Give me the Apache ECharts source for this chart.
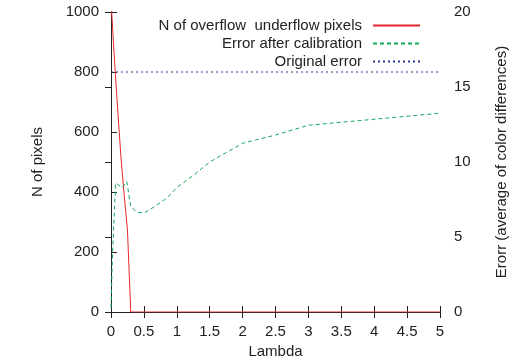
<!DOCTYPE html>
<html><head><meta charset="utf-8">
<script src="https://cdn.jsdelivr.net/npm/echarts@6/dist/echarts.min.js"></script>
<style>html,body{margin:0;padding:0;background:#fff}#c{width:511px;height:364px}</style>
</head><body><div id="c"></div>
<script>
const overflowLambda = [0, 0.05, 0.1, 0.15, 0.2, 0.25, 0.3, 0.5, 1, 2, 3, 4, 5];
const overflowPixels = [1040, 850, 680, 520, 390, 275, 0, 0, 0, 0, 0, 0, 0];
const errorLambda = [0, 0.02, 0.07, 0.12, 0.17, 0.24, 0.3, 0.4, 0.5, 0.6, 0.75, 0.85, 1, 1.25, 1.5, 2, 2.5, 3, 4, 5];
const errorValues = [0.3, 3.5, 8.6, 8.45, 8.3, 8.7, 7.0, 6.65, 6.6, 6.85, 7.3, 7.6, 8.3, 9.1, 10.0, 11.25, 11.8, 12.45, 12.85, 13.25];
const originalLambda = [0, 5];
const originalError = [16, 16];
const xTicks = {min: 0, max: 5, interval: 0.5};
const leftTicks = {min: 0, max: 1000, interval: 200};
const rightTicks = {min: 0, max: 20, interval: 5};

const font = 'Liberation Sans';
const axisCol = '#222';
const chart = echarts.init(document.getElementById('c'));
const pairs = (xs, ys) => xs.map((x, i) => [x, ys[i]]);
chart.setOption({
  animation: false,
  grid: {left: 111, right: 71, top: 12, bottom: 52, outerBoundsMode: 'none', containLabel: false},
  legend: {
    orient: 'vertical', right: 85, top: 13, align: 'right', itemGap: 3,
    itemWidth: 47, itemHeight: 14,
    itemStyle: {opacity: 0},
    textStyle: {fontFamily: font, fontSize: 15, color: '#222', padding: [0, 6, 0, 0]},
    data: ['N of overflow  underflow pixels', 'Error after calibration', 'Original error']
  },
  xAxis: [{
    type: 'value', min: xTicks.min, max: xTicks.max, interval: xTicks.interval,
    name: 'Lambda', nameLocation: 'middle', nameGap: 30,
    nameTextStyle: {fontFamily: font, fontSize: 15, color: '#222'},
    axisLine: {lineStyle: {color: axisCol, width: 1}},
    axisTick: {inside: true, length: 6, lineStyle: {color: axisCol}},
    axisLabel: {fontFamily: font, fontSize: 15, color: '#222', margin: 12},
    splitLine: {show: false}
  }, {
    type: 'value', position: 'top', min: xTicks.min, max: xTicks.max, interval: xTicks.interval,
    axisLine: {lineStyle: {color: axisCol, width: 1}},
    axisTick: {inside: true, length: 6, lineStyle: {color: axisCol}},
    axisLabel: {show: false}, splitLine: {show: false}
  }],
  yAxis: [{
    type: 'value', position: 'left', min: leftTicks.min, max: leftTicks.max, interval: leftTicks.interval,
    name: 'N of pixels', nameLocation: 'middle', nameGap: 66, nameRotate: 90,
    nameTextStyle: {fontFamily: font, fontSize: 15, color: '#222'},
    axisLine: {show: true, lineStyle: {color: axisCol, width: 1}},
    axisTick: {show: true, inside: true, length: 6, lineStyle: {color: axisCol}},
    axisLabel: {fontFamily: font, fontSize: 15, color: '#222', margin: 12, formatter: v => String(v)},
    splitLine: {show: false}
  }, {
    type: 'value', position: 'right', min: rightTicks.min, max: rightTicks.max, interval: rightTicks.interval,
    name: 'Erorr (average of color differences)', nameLocation: 'middle', nameGap: 54, nameRotate: 90,
    nameTextStyle: {fontFamily: font, fontSize: 15, color: '#222'},
    axisLine: {show: true, lineStyle: {color: axisCol, width: 1}},
    axisTick: {show: true, inside: true, length: 6, lineStyle: {color: axisCol}},
    axisLabel: {fontFamily: font, fontSize: 15, color: '#222', margin: 14},
    splitLine: {show: false}
  }],
  series: [{
    name: 'N of overflow  underflow pixels', type: 'line', yAxisIndex: 0, symbol: 'none',
    data: pairs(overflowLambda, overflowPixels),
    lineStyle: {color: '#e8262a', width: 1}, itemStyle: {color: '#e8262a'}, clip: true, z: 3
  }, {
    name: 'Error after calibration', type: 'line', yAxisIndex: 1, symbol: 'none',
    data: pairs(errorLambda, errorValues),
    lineStyle: {color: '#12a85a', width: 1, type: [4, 3]}, itemStyle: {color: '#12a85a'}, clip: true
  }, {
    name: 'Original error', type: 'line', yAxisIndex: 1, symbol: 'none',
    data: pairs(originalLambda, originalError),
    lineStyle: {color: '#2a3a9e', width: 1, type: [2, 3]}, itemStyle: {color: '#2a3a9e'}, clip: true
  }]
});
</script></body></html>
